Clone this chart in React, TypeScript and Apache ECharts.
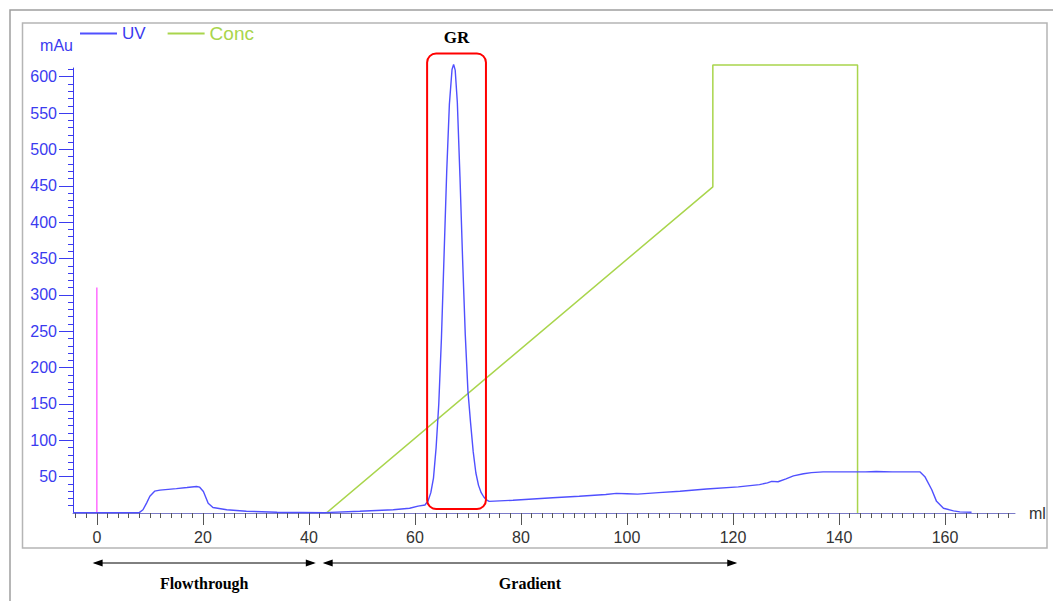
import React, { useEffect, useRef } from "react";
import * as echarts from "echarts";

// UV absorbance trace (elution volume in ml, absorbance in mAu)
const uvVolume = [
  -4.5, 8, 8.7, 9.4, 10, 10.9, 11.9, 15, 17, 18.8, 19.4, 20.1, 21, 21.9, 24.5, 28.2, 34, 43,
  49.6, 55.9, 59, 60.6, 61.9, 62.5, 63, 63.5, 64, 64.5, 65, 65.5, 66, 66.5, 67, 67.3, 67.6, 68,
  68.5, 69, 69.5, 70, 70.5, 71, 71.5, 72, 72.5, 73, 73.5, 74, 78.5, 86, 91, 96, 98, 100, 102,
  106, 110, 115, 121, 125, 126.5, 127.3, 128.5, 130, 131.4, 133.3, 134.8, 137, 145, 147, 150,
  155.3, 156.2, 157.5, 158.4, 159.7, 161.6, 162.8, 165,
];
const uvAbs = [
  0.5, 0.5, 4.5, 14, 23, 30, 31.5, 33.5, 35, 36.5, 35.5, 29.5, 13.5, 7.5, 4.5, 2.5, 1, 0.5,
  2.5, 4.5, 6.5, 9.5, 11, 17, 28, 48, 90, 150, 240, 355, 470, 562, 610, 617, 609, 565,
  462, 348, 245, 168, 124, 84, 55, 38, 28, 22, 18, 16, 17.5, 21, 23, 25.5, 27, 26.5, 26,
  28, 30, 33, 36, 39, 41.5, 43.5, 43, 47, 51, 54, 55.5, 56.5, 56.5, 57, 56.5,
  56.5, 50, 32, 16, 6.5, 3, 1.5, 1,
];

// Buffer B concentration (%)
const concVolume = [43.3, 116.2, 116.2, 143.5, 143.5];
const concPercent = [0, 72.8, 100, 100, 0];

// Injection mark
const injectVolume = [0, 0];
const injectAbs = [0, 310];

// Axis labels
const xLabelValues = [0, 20, 40, 60, 80, 100, 120, 140, 160];
const yLabelValues = [50, 100, 150, 200, 250, 300, 350, 400, 450, 500, 550, 600];

// Peak highlight and phase annotations
const peakName = "GR";
const peakBoxVolume = [62.3, 73.4];
const peakBoxAbs = [5.5, 632];
const phaseNames = ["Flowthrough", "Gradient"];
const phaseStart = [-0.8, 42.6];
const phaseEnd = [41.3, 120.8];

const X_MIN = -4.5;
const X_MAX = 173.2;
const Y_MAX = 612;

const xMinorTicks: number[] = [];
for (let v = -4; v <= 172; v += 2) xMinorTicks.push(v);
const yMinorTicks: number[] = [];
for (let v = 10; v <= 610; v += 10) yMinorTicks.push(v);

const SANS = '"Liberation Sans", Arial, sans-serif';
const SERIF = '"Liberation Serif", "Times New Roman", serif';
const AXIS_BLUE = "#3b3bef";
const UV_BLUE = "#5050ff";
const CONC_GREEN = "#a9d54c";

export default function App() {
  const ref = useRef<HTMLDivElement>(null);

  useEffect(() => {
    if (!ref.current) return;
    const chart = echarts.init(ref.current, null, { renderer: "svg" });

    const option: any = {
      animation: false,
      backgroundColor: "#ffffff",
      grid: { left: 73, top: 68, right: 38, bottom: 88, containLabel: false, outerBoundsMode: "none" },
      legend: {
        left: 80,
        top: 24,
        padding: 0,
        itemGap: 22,
        itemWidth: 37,
        itemHeight: 2,
        icon: "rect",
        textStyle: { fontFamily: SANS },
        data: [
          { name: "UV", textStyle: { color: AXIS_BLUE, fontSize: 17, fontFamily: SANS } },
          { name: "Conc", textStyle: { color: CONC_GREEN, fontSize: 19, fontFamily: SANS } },
        ],
      },
      xAxis: [
        {
          type: "value",
          min: X_MIN,
          max: X_MAX,
          position: "bottom",
          axisLine: { show: true, onZero: false, lineStyle: { color: "#7a7ac8", width: 1 } },
          axisTick: { show: true, length: 12, customValues: xLabelValues, lineStyle: { color: "#555" } },
          axisLabel: { customValues: xLabelValues, margin: 16, fontSize: 16, color: "#333", fontFamily: SANS },
          splitLine: { show: false },
          name: "ml",
          nameLocation: "end",
          nameGap: 14,
          nameTextStyle: { fontSize: 16, color: "#333", fontFamily: SANS, align: "left", verticalAlign: "middle", padding: [14, 0, 0, 0] },
        },
        {
          type: "value",
          min: X_MIN,
          max: X_MAX,
          position: "bottom",
          axisLine: { show: false, onZero: false },
          axisTick: { show: true, length: 5, customValues: xMinorTicks, lineStyle: { color: "#555" } },
          axisLabel: { show: false },
          splitLine: { show: false },
        },
      ],
      yAxis: [
        {
          type: "value",
          min: 0,
          max: Y_MAX,
          position: "left",
          axisLine: { show: true, onZero: false, lineStyle: { color: AXIS_BLUE, width: 1 } },
          axisTick: { show: true, length: 14, customValues: yLabelValues, lineStyle: { color: AXIS_BLUE } },
          axisLabel: { customValues: yLabelValues, margin: 16, fontSize: 16, color: AXIS_BLUE, fontFamily: SANS },
          splitLine: { show: false },
          name: "mAu",
          nameLocation: "end",
          nameGap: 15,
          nameTextStyle: { fontSize: 16, color: AXIS_BLUE, fontFamily: SANS, align: "right" },
        },
        {
          type: "value",
          min: 0,
          max: Y_MAX,
          position: "left",
          axisLine: { show: false, onZero: false },
          axisTick: { show: true, length: 5, customValues: yMinorTicks, lineStyle: { color: AXIS_BLUE } },
          axisLabel: { show: false },
          splitLine: { show: false },
        },
        { type: "value", min: 0, max: 99.33, show: false, axisLine: { onZero: false } },
      ],
      series: [
        {
          name: "Inject",
          type: "line",
          xAxisIndex: 0,
          yAxisIndex: 0,
          showSymbol: false,
          clip: false,
          lineStyle: { color: "#ff55ff", width: 1.3 },
          itemStyle: { color: "#ff55ff" },
          data: injectVolume.map((v, i) => [v, injectAbs[i]]),
          z: 1,
        },
        {
          name: "Conc",
          type: "line",
          xAxisIndex: 0,
          yAxisIndex: 2,
          showSymbol: false,
          clip: false,
          lineStyle: { color: CONC_GREEN, width: 1.5 },
          itemStyle: { color: CONC_GREEN },
          data: concVolume.map((v, i) => [v, concPercent[i]]),
          z: 2,
        },
        {
          name: "UV",
          type: "line",
          xAxisIndex: 0,
          yAxisIndex: 0,
          showSymbol: false,
          clip: false,
          lineStyle: { color: UV_BLUE, width: 1.4 },
          itemStyle: { color: UV_BLUE },
          data: uvVolume.map((v, i) => [v, uvAbs[i]]),
          z: 3,
        },
      ],
    };

    chart.setOption(option);

    const px = (x: number, y: number) =>
      chart.convertToPixel({ xAxisIndex: 0, yAxisIndex: 0 }, [x, y]) as number[];

    const graphics: any[] = [];

    // Frames around the plot
    graphics.push({
      type: "rect",
      silent: true,
      shape: { x: 10, y: 10, width: 1200, height: 700 },
      style: { fill: "none", stroke: "#9e9e9e", lineWidth: 1.5 },
      z: 0,
    });
    graphics.push({
      type: "rect",
      silent: true,
      shape: { x: 22.5, y: 23, width: 1024.5, height: 525 },
      style: { fill: "none", stroke: "#b5b5b5", lineWidth: 1.5 },
      z: 0,
    });

    // Highlight box round the main peak
    const boxA = px(peakBoxVolume[0], peakBoxAbs[1]);
    const boxB = px(peakBoxVolume[1], peakBoxAbs[0]);
    graphics.push({
      type: "rect",
      shape: { x: boxA[0], y: boxA[1], width: boxB[0] - boxA[0], height: boxB[1] - boxA[1], r: 9 },
      style: { fill: "none", stroke: "#ff0000", lineWidth: 2 },
      z: 100,
    });
    graphics.push({
      type: "text",
      x: (boxA[0] + boxB[0]) / 2,
      y: boxA[1] - 16,
      style: {
        text: peakName,
        align: "center",
        verticalAlign: "middle",
        textAlign: "center",
        textVerticalAlign: "middle",
        fontFamily: SERIF,
        fontWeight: "bold",
        fontSize: 17,
        fill: "#000",
      },
      z: 100,
    });

    // Phase arrows under the axis
    const arrowY = 563;
    const labelY = 583;
    phaseNames.forEach((name, i) => {
      const x1 = px(phaseStart[i], 0)[0];
      const x2 = px(phaseEnd[i], 0)[0];
      graphics.push({
        type: "line",
        shape: { x1: x1 + 2, y1: arrowY, x2: x2 - 2, y2: arrowY },
        style: { stroke: "#000", lineWidth: 1 },
      });
      graphics.push({
        type: "polygon",
        shape: { points: [[x1, arrowY], [x1 + 10, arrowY - 3.5], [x1 + 10, arrowY + 3.5]] },
        style: { fill: "#000" },
      });
      graphics.push({
        type: "polygon",
        shape: { points: [[x2, arrowY], [x2 - 10, arrowY - 3.5], [x2 - 10, arrowY + 3.5]] },
        style: { fill: "#000" },
      });
      graphics.push({
        type: "text",
        x: (x1 + x2) / 2,
        y: labelY,
        style: {
          text: name,
          align: "center",
          verticalAlign: "middle",
          textAlign: "center",
          textVerticalAlign: "middle",
          fontFamily: SERIF,
          fontWeight: "bold",
          fontSize: 16,
          fill: "#000",
        },
      });
    });

    chart.setOption({ graphic: graphics });

    return () => {
      chart.dispose();
    };
  }, []);

  return (
    <div
      ref={ref}
      style={{ position: "absolute", left: 0, top: 0, width: 1053, height: 601, background: "#fff" }}
    />
  );
}
